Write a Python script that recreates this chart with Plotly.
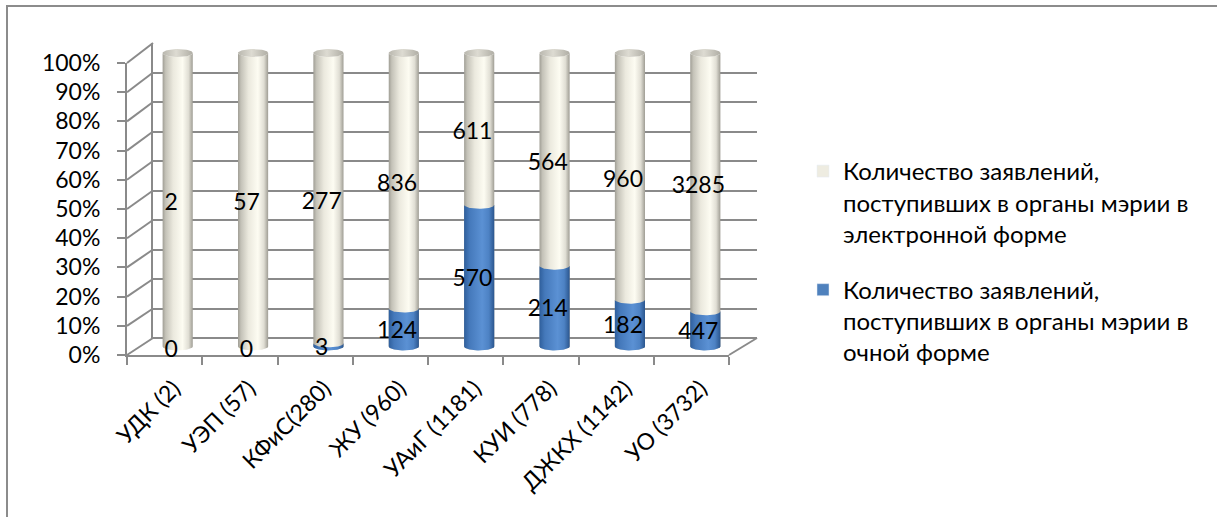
import numpy as np
import plotly.graph_objects as go

# ---- data -------------------------------------------------------------
categories = ["УДК (2)", "УЭП (57)", "КФиС(280)", "ЖУ (960)",
              "УАиГ (1181)", "КУИ (778)", "ДЖКХ (1142)", "УО (3732)"]
electronic = [2, 57, 277, 836, 611, 564, 960, 3285]
in_person = [0, 0, 3, 124, 570, 214, 182, 447]
series_names = [
    "Количество заявлений,<br>поступивших в органы мэрии в<br>электронной форме",
    "Количество заявлений,<br>поступивших в органы мэрии в<br>очной форме",
]
y_ticks = list(range(0, 101, 10))

# ---- page geometry (pixels) -----------------------------------------
W, H = 1217, 517
FONT = "Lato, Carlito, Calibri, 'Open Sans', sans-serif"
GRID = "#8a8a8a"


def px(x):
    return x / W


def py(y):
    return 1 - y / H


# planes of the pseudo-3D box: (x_left, x_right, y_at_0%, y_at_100%)
FRONT = (127, 729, 355, 63)
BACK = (153, 757, 338, 43)
MID = tuple((f + b) / 2 for f, b in zip(FRONT, BACK))
LABEL = tuple((f + m) / 2 for f, m in zip(FRONT, MID))

PAD = 5  # extra percent units around the bar axis so caps are not clipped


def xdom(plane):
    return [px(plane[0]), px(plane[1])]


def ydom(plane, lo=0, hi=100):
    s = (plane[2] - plane[3]) / 100
    return [py(plane[2] - lo * s), py(plane[3] - (hi - 100) * s)]


# ---- percentages ------------------------------------------------------
totals = [e + p for e, p in zip(electronic, in_person)]
pct_person = [p / t * 100 for p, t in zip(in_person, totals)]

HW = 0.2   # cylinder half width in category units
RY = 1.35  # ellipse half height in percent units

white_scale = [[0, "#a09e95"], [0.1, "#c4c2b8"], [0.35, "#ebe9de"],
               [0.66, "#fdfcf2"], [0.86, "#e0ded4"], [1, "#9f9d94"]]
cap_scale = [[0, "#b9b7ae"], [0.45, "#dddbd2"], [1, "#b0aea5"]]
blue_scale = [[0, "#2f5f9c"], [0.18, "#4579bb"], [0.6, "#5b91d4"],
              [0.82, "#4d82c4"], [1, "#2b568e"]]


def arc(c, y0, n=40):
    t = np.linspace(0, np.pi, n)
    return c - HW * np.cos(t), y0 - RY * np.sin(t)


def body(c, y_top):
    xb, yb = arc(c, 0)
    xt, yt = arc(c, y_top)
    return np.concatenate([xb, xt[::-1]]), np.concatenate([yb, yt[::-1]])


def ellipse(c, y0, n=60):
    t = np.linspace(0, 2 * np.pi, n)
    return c + HW * np.cos(t), y0 + RY * np.sin(t)


fig = go.Figure()

# empty traces so the front axes and the back wall are drawn
fig.add_trace(go.Scatter(x=[None], y=[None], xaxis="x", yaxis="y",
                         showlegend=False, hoverinfo="skip"))
fig.add_trace(go.Scatter(x=[None], y=[None], xaxis="x2", yaxis="y2",
                         showlegend=False, hoverinfo="skip"))


def poly(x, y, scale):
    fig.add_trace(go.Scatter(
        x=x, y=y, mode="lines", fill="toself", line=dict(width=0),
        fillgradient=dict(type="horizontal", colorscale=scale),
        xaxis="x3", yaxis="y3", showlegend=False, hoverinfo="skip"))


for i, b in enumerate(pct_person):
    xs, ys = body(i, 100)
    poly(xs, ys, white_scale)
    xs, ys = ellipse(i, 100)
    poly(xs, ys, cap_scale)
    if b > 0:
        xs, ys = body(i, b)
        poly(xs, ys, blue_scale)

# legend swatches
fig.add_trace(go.Bar(x=[None], y=[None], name=series_names[0],
                     marker_color="#eeece1", xaxis="x3", yaxis="y3",
                     legendgroup="e", legendrank=1))
fig.add_trace(go.Bar(x=[None], y=[None], name=series_names[1],
                     marker_color="#4f81bd", xaxis="x3", yaxis="y3",
                     legendgroup="p", legendrank=2))

# data labels at the middle of every segment
lab_x, lab_y, lab_t = [], [], []
for i, (e, p, b) in enumerate(zip(electronic, in_person, pct_person)):
    lab_x += [i, i]
    lab_y += [b / 2, b + (100 - b) / 2]
    lab_t += [str(p), str(e)]
fig.add_trace(go.Scatter(
    x=lab_x, y=lab_y, text=lab_t, mode="text", xaxis="x4", yaxis="y4",
    textfont=dict(family=FONT, size=23, color="black"),
    cliponaxis=False, showlegend=False, hoverinfo="skip"))

# ---- frame lines: side wall diagonals, floor edge, outer border ------
shapes = []
for v in y_ticks:
    yf = FRONT[2] + (FRONT[3] - FRONT[2]) * v / 100
    yb = BACK[2] + (BACK[3] - BACK[2]) * v / 100
    shapes.append(dict(type="line", xref="paper", yref="paper",
                       x0=px(FRONT[0]), y0=py(yf), x1=px(BACK[0]), y1=py(yb),
                       line=dict(color=GRID, width=2), layer="below"))
shapes.append(dict(type="line", xref="paper", yref="paper",
                   x0=px(FRONT[1]), y0=py(FRONT[2]), x1=px(BACK[1]), y1=py(BACK[2]),
                   line=dict(color=GRID, width=2), layer="below"))
shapes.append(dict(type="path", xref="paper", yref="paper",
                   path=f"M {px(7)} 0 L {px(7)} {py(6)} L 1 {py(6)}",
                   line=dict(color="#8c8c8c", width=2), layer="below"))

fig.update_layout(
    width=W, height=H,
    margin=dict(l=0, r=0, t=0, b=0, autoexpand=False),
    paper_bgcolor="white", plot_bgcolor="rgba(0,0,0,0)",
    font=dict(family=FONT, size=23, color="black"),
    shapes=shapes,
    showlegend=True,
    legend=dict(x=px(803), y=py(149), xanchor="left", yanchor="top",
                valign="top", tracegroupgap=22,
                font=dict(family=FONT, size=24, color="black"),
                bgcolor="rgba(0,0,0,0)"),
    xaxis=dict(domain=xdom(FRONT), anchor="y", range=[-0.5, 7.5],
               tickvals=list(range(len(categories))), ticktext=categories,
               tickangle=-45, ticks="", showline=True, linecolor=GRID,
               linewidth=2, showgrid=False, zeroline=False, automargin=False,
               ticklabelshift=9, ticklabelstandoff=9,
               tickfont=dict(family=FONT, size=23, color="black"),
               minor=dict(tickvals=[k - 0.5 for k in range(len(categories) + 1)],
                          ticks="outside", ticklen=8, tickcolor=GRID,
                          tickwidth=2)),
    yaxis=dict(domain=ydom(FRONT), anchor="x", range=[0, 100],
               tickvals=y_ticks, ticktext=[f"{v}%" for v in y_ticks],
               ticks="outside", ticklen=8, tickcolor=GRID, tickwidth=2,
               showline=True, linecolor=GRID, linewidth=2, automargin=False,
               showgrid=False, zeroline=False, ticklabelstandoff=12,
               tickfont=dict(family=FONT, size=23, color="black")),
    xaxis2=dict(domain=xdom(BACK), anchor="y2", range=[0, 1],
                showticklabels=False, ticks="", showgrid=False,
                zeroline=False, showline=False, automargin=False),
    yaxis2=dict(domain=ydom(BACK), anchor="x2", range=[0, 100],
                tickvals=y_ticks, showticklabels=False, ticks="",
                showgrid=True, gridcolor=GRID, gridwidth=2, automargin=False,
                zeroline=True, zerolinecolor=GRID, zerolinewidth=2,
                showline=True, linecolor=GRID, linewidth=2),
    xaxis3=dict(domain=xdom(MID), anchor="y3", range=[-0.5, 7.5], visible=False),
    yaxis3=dict(domain=ydom(MID, -PAD, 100 + PAD), anchor="x3",
                range=[-PAD, 100 + PAD], visible=False),
    xaxis4=dict(domain=xdom(LABEL), anchor="y4", range=[-0.5, 7.5], visible=False),
    yaxis4=dict(domain=ydom(LABEL), anchor="x4", range=[0, 100], visible=False),
)

fig.write_html("out.html")
